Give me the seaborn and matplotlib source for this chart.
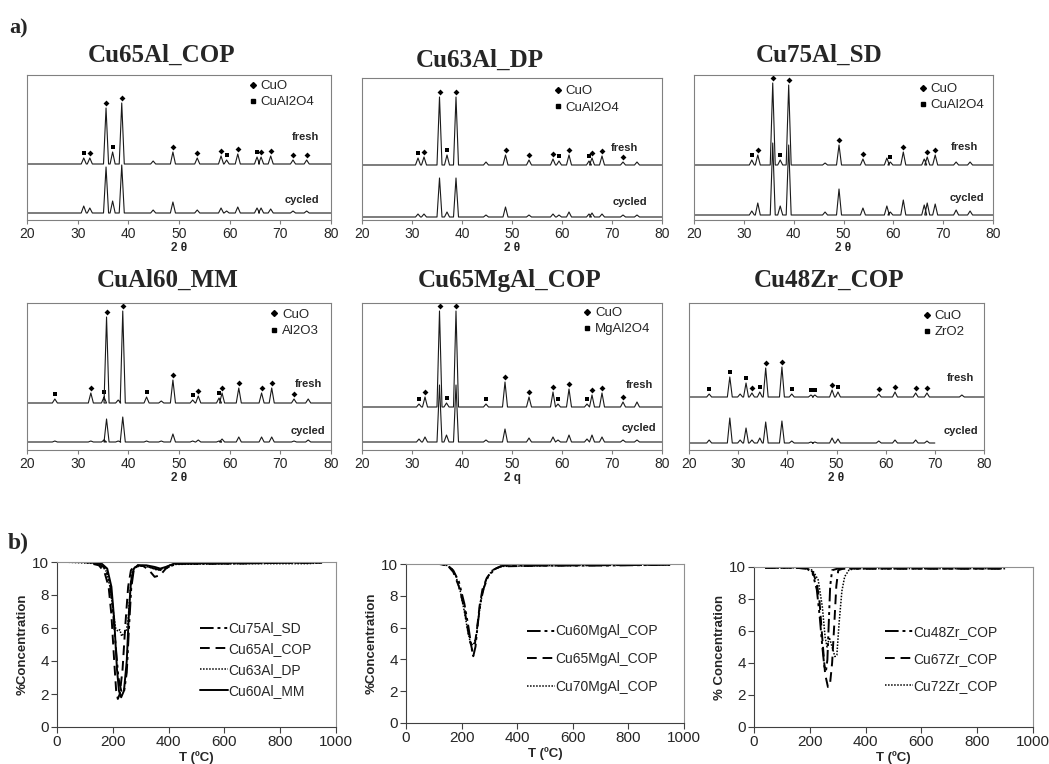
import numpy as np
import pandas as pd
import seaborn as sns
import matplotlib.pyplot as plt
from matplotlib.lines import Line2D

sns.set_theme(style="white")
plt.rcParams["font.family"] = ["Liberation Sans", "DejaVu Sans"]

W, H = 1049, 764

# ---------------- a) XRD patterns (peak lists read off the picture) ----------------
# position (2theta), height above baseline for fresh / cycled, phase: c = CuO, s = support phase
cu65al_pos = [31.2, 32.4, 35.6, 36.9, 38.7, 44.9, 48.8, 53.6, 58.3, 59.4, 61.6, 65.4, 66.2, 68.1, 72.5, 75.2]
cu65al_fresh = [6, 6, 56, 12, 61, 3, 12, 6, 8, 4, 10, 7, 7, 8, 4, 4]
cu65al_cyc = [7, 5, 46, 12, 48, 3, 11, 3, 5, 2, 6, 5, 5, 4, 2, 2]
cu65al_phase = ["s", "c", "c", "s", "c", "", "c", "c", "c", "s", "c", "s", "c", "c", "c", "c"]

cu63al_pos = [31.2, 32.4, 35.5, 37.0, 38.8, 44.8, 48.7, 53.4, 58.2, 59.4, 61.4, 65.4, 66.0, 68.0, 72.2, 75.0]
cu63al_fresh = [7, 8, 68, 10, 68, 3, 10, 5, 6, 4, 10, 4, 7, 9, 3, 3]
cu63al_cyc = [3, 3, 39, 5, 39, 2, 10, 2, 3, 2, 5, 3, 4, 3, 2, 2]
cu63al_phase = ["s", "c", "c", "s", "c", "", "c", "c", "c", "s", "c", "s", "c", "c", "c", ""]

cu75al_pos = [31.6, 32.8, 35.8, 37.3, 39.0, 46.3, 49.1, 53.9, 58.7, 59.4, 62.0, 66.2, 66.8, 68.4, 72.6, 75.4]
cu75al_fresh = [5, 10, 82, 5, 80, 2, 20, 6, 7, 3, 13, 6, 8, 10, 3, 3]
cu75al_cyc = [4, 12, 72, 9, 70, 3, 26, 7, 9, 3, 15, 10, 12, 11, 5, 4]
cu75al_phase = ["s", "c", "c", "s", "c", "", "c", "c", "", "s", "c", "", "c", "c", "", ""]

cual60_pos = [25.5, 32.6, 35.2, 35.7, 38.0, 38.9, 43.6, 46.5, 48.8, 52.7, 53.8, 57.9, 58.5, 61.8, 66.3, 68.3, 72.7, 75.5]
cual60_fresh = [4, 10, 6, 86, 3, 92, 6, 2, 23, 3, 7, 5, 10, 15, 10, 15, 4, 4]
cual60_cyc = [1, 1, 2, 23, 1, 25, 1, 1, 8, 1, 2, 1, 3, 5, 5, 5, 1, 2]
cual60_phase = ["s", "c", "s", "c", "", "c", "s", "", "c", "s", "c", "s", "c", "c", "c", "c", "c", ""]

cu65mg_pos = [31.4, 32.6, 35.5, 36.9, 38.8, 44.8, 48.6, 53.4, 58.2, 59.2, 61.4, 65.0, 66.0, 68.0, 72.2, 75.0]
cu65mg_fresh = [3, 10, 96, 4, 96, 3, 25, 10, 15, 3, 18, 3, 12, 14, 5, 5]
cu65mg_cyc = [3, 5, 57, 7, 57, 2, 13, 4, 5, 2, 7, 3, 7, 5, 2, 2]
cu65mg_phase = ["s", "c", "c", "s", "c", "s", "c", "c", "c", "s", "c", "s", "c", "c", "c", ""]

cu48zr_pos = [24.1, 28.3, 30.4, 31.6, 32.8, 34.4, 35.6, 38.9, 40.9, 44.8, 45.6, 49.1, 50.3, 58.6, 61.9, 66.1, 68.4, 75.5]
cu48zr_fresh = [3, 20, 3, 14, 4, 5, 29, 30, 3, 2, 2, 7, 5, 3, 5, 4, 4, 2]
cu48zr_cyc = [3, 25, 3, 15, 3, 5, 21, 22, 2, 1, 1, 5, 4, 2, 3, 3, 2, 0]
cu48zr_phase = ["s", "s", "", "s", "c", "s", "c", "c", "s", "s", "s", "c", "s", "c", "c", "c", "c", ""]

xrd_titles = ["Cu65Al_COP", "Cu63Al_DP", "Cu75Al_SD", "CuAl60_MM", "Cu65MgAl_COP", "Cu48Zr_COP"]
xrd_support = ["CuAl2O4", "CuAl2O4", "CuAl2O4", "Al2O3", "MgAl2O4", "ZrO2"]
xrd_xlabels = ["2 θ", "2 θ", "2 θ", "2 θ", "2 q", "2 θ"]
xrd_fresh_base = [56, 55, 55, 47, 43, 53]
xrd_cyc_base = [7, 3, 5, 8, 8, 7]
xrd_cyc_end = [80, 80, 80, 80, 80, 70]

# ---------------- b) TPR profiles ----------------
t_cu75al_sd = [20, 100, 150, 175, 190, 200, 210, 220, 230, 240, 250, 258, 266, 275, 290, 320, 350, 375, 400, 430, 600, 800, 920]
c_cu75al_sd = [10, 10, 9.9, 9.6, 8.7, 7.2, 5.0, 3.0, 2.2, 2.1, 3.3, 6.0, 8.4, 9.5, 9.8, 9.75, 9.6, 9.5, 9.7, 9.9, 9.9, 9.95, 9.95]
t_cu65al_cop = [20, 100, 150, 170, 185, 195, 205, 212, 218, 225, 235, 245, 255, 265, 275, 290, 310, 330, 350, 370, 390, 420, 600, 800, 950]
c_cu65al_cop = [10, 10, 9.8, 9.4, 8.5, 6.8, 4.0, 2.2, 1.7, 2.0, 3.5, 6.2, 8.5, 9.5, 9.7, 9.8, 9.75, 9.5, 9.1, 9.2, 9.6, 9.9, 9.9, 9.95, 9.95]
t_cu63al_dp = [20, 150, 175, 190, 200, 210, 218, 225, 232, 240, 248, 255, 262, 270, 280, 300, 330, 360, 380, 410, 600, 900, 950]
c_cu63al_dp = [10, 9.9, 9.5, 8.5, 7.2, 6.0, 5.8, 5.9, 5.5, 5.7, 5.8, 6.5, 8.2, 9.4, 9.7, 9.75, 9.7, 9.5, 9.6, 9.85, 9.9, 9.9, 9.95]
t_cu60al_mm = [20, 100, 160, 180, 195, 205, 215, 222, 230, 240, 250, 258, 265, 275, 290, 320, 350, 370, 390, 420, 600, 900]
c_cu60al_mm = [10, 10, 9.9, 9.6, 8.5, 6.5, 3.5, 2.2, 1.8, 2.2, 4.0, 7.0, 8.8, 9.6, 9.8, 9.8, 9.7, 9.6, 9.7, 9.9, 9.95, 10]

t_cu60mg = [45, 120, 150, 170, 190, 210, 225, 235, 242, 250, 258, 268, 280, 295, 320, 350, 500, 700, 950]
c_cu60mg = [10, 10, 9.9, 9.6, 8.9, 7.5, 6.0, 4.8, 4.2, 4.8, 6.2, 7.6, 8.5, 9.2, 9.7, 9.9, 9.9, 9.9, 9.95]
t_cu65mg = [45, 120, 150, 170, 190, 210, 225, 238, 248, 256, 265, 275, 290, 310, 340, 500, 950]
c_cu65mg = [10, 10, 9.9, 9.5, 8.6, 7.2, 5.6, 4.6, 5.0, 6.0, 7.4, 8.4, 9.1, 9.6, 9.85, 9.9, 9.95]
t_cu70mg = [45, 120, 150, 165, 180, 195, 210, 222, 232, 242, 252, 262, 275, 290, 310, 340, 500, 950]
c_cu70mg = [10, 10, 9.9, 9.7, 9.2, 8.3, 7.0, 5.8, 5.0, 4.9, 5.4, 6.8, 8.2, 9.1, 9.6, 9.85, 9.9, 9.95]

t_cu48zr = [40, 150, 190, 210, 225, 235, 245, 252, 258, 263, 268, 273, 280, 300, 500, 900]
c_cu48zr = [9.95, 9.95, 9.9, 9.6, 8.6, 7.0, 5.0, 3.8, 3.5, 4.2, 6.5, 8.8, 9.8, 9.9, 9.9, 9.9]
t_cu67zr = [40, 150, 190, 210, 225, 235, 245, 255, 265, 272, 280, 288, 295, 302, 320, 500, 900]
c_cu67zr = [9.95, 9.95, 9.9, 9.7, 9.0, 7.8, 5.5, 3.3, 2.5, 2.6, 4.0, 6.5, 8.8, 9.8, 9.9, 9.9, 9.9]
t_cu72zr = [40, 150, 190, 210, 230, 245, 255, 262, 270, 280, 290, 297, 305, 315, 325, 340, 360, 500, 900]
c_cu72zr = [9.95, 9.95, 9.9, 9.8, 9.2, 7.5, 5.6, 5.0, 5.6, 5.0, 4.4, 4.5, 6.5, 8.5, 9.4, 9.8, 9.9, 9.9, 9.9]

dash_dd = (0, (7, 2, 1.5, 2, 1.5, 2))
dash_d = (0, (5, 3))
dash_dot = (0, (1, 1))

fig = plt.figure(figsize=(W / 100, H / 100), dpi=100)


def box(l, t, r, b):
    return fig.add_axes([l / W, 1 - b / H, (r - l) / W, (b - t) / H])


def profile(pos, hts, base, start, end, hw=0.5):
    xs, ys = [start], [base]
    for p, v in sorted(zip(pos, hts)):
        if p + hw > end:
            continue
        xs += [p - hw, p, p + hw]
        ys += [base, base + v, base]
    xs.append(end)
    ys.append(base)
    return pd.DataFrame({"x": xs, "y": ys})


xrd_data = [
    (cu65al_pos, cu65al_fresh, cu65al_cyc, cu65al_phase),
    (cu63al_pos, cu63al_fresh, cu63al_cyc, cu63al_phase),
    (cu75al_pos, cu75al_fresh, cu75al_cyc, cu75al_phase),
    (cual60_pos, cual60_fresh, cual60_cyc, cual60_phase),
    (cu65mg_pos, cu65mg_fresh, cu65mg_cyc, cu65mg_phase),
    (cu48zr_pos, cu48zr_fresh, cu48zr_cyc, cu48zr_phase),
]
xrd_boxes = [(27, 75, 331, 220), (362, 78, 662, 220), (694, 75, 993, 220),
             (27, 303, 331, 450), (362, 303, 662, 450), (689, 303, 984, 450)]
title_pos = [(162, 62), (480, 67), (819, 62), (168, 287), (510, 287), (829, 287)]
leg_pos = [(0.73, 0.966), (0.64, 0.95), (0.752, 0.945), (0.80, 0.96), (0.737, 0.973), (0.793, 0.952)]
fresh_pos = [(0.96, 0.57), (0.92, 0.51), (0.95, 0.50), (0.97, 0.45), (0.97, 0.44), (0.966, 0.49)]
cyc_pos = [(0.96, 0.14), (0.95, 0.13), (0.97, 0.15), (0.98, 0.13), (0.98, 0.15), (0.98, 0.13)]

for i, (pos, fr, cy, ph) in enumerate(xrd_data):
    l, t, r, b = xrd_boxes[i]
    ax = box(l, t, r, b)
    dfr = profile(pos, fr, xrd_fresh_base[i], 20, 80)
    dcy = profile(pos, cy, xrd_cyc_base[i], 20, xrd_cyc_end[i])
    sns.lineplot(data=dcy, x="x", y="y", ax=ax, sort=False, estimator=None, color="#1a1a1a", lw=0.8)
    sns.lineplot(data=dfr, x="x", y="y", ax=ax, sort=False, estimator=None, color="#1a1a1a", lw=0.8)
    mk = pd.DataFrame({"x": pos, "y": np.array(fr) + xrd_fresh_base[i] + 5, "ph": ph})
    for code, m, s in [("c", "D", 9), ("s", "s", 12)]:
        sub = mk[mk.ph == code]
        sns.scatterplot(data=sub, x="x", y="y", ax=ax, marker=m, s=s, color="black", linewidth=0)
    ax.set_xlim(20, 80)
    ax.set_ylim(0, b - t)
    ax.set_xticks(range(20, 81, 10))
    ax.set_yticks([])
    ax.tick_params(axis="x", direction="out", length=3, width=0.8, color="#808080",
                   labelsize=10, pad=2, bottom=True)
    for sp in ax.spines.values():
        sp.set_color("#808080")
        sp.set_linewidth(0.8)
    ax.set_xlabel(xrd_xlabels[i], fontsize=8.5, fontweight="bold", labelpad=1)
    ax.set_ylabel("")
    handles = [Line2D([], [], ls="none", marker="D", ms=3, color="black"),
               Line2D([], [], ls="none", marker="s", ms=3.5, color="black")]
    ax.legend(handles, ["CuO", xrd_support[i]], loc="upper left", bbox_to_anchor=leg_pos[i],
              frameon=False, fontsize=9.5, handlelength=0.6, handletextpad=0.3,
              labelspacing=0.3, borderpad=0, borderaxespad=0)
    ax.text(*fresh_pos[i], "fresh", transform=ax.transAxes, ha="right", va="center",
            fontsize=8, fontweight="bold")
    ax.text(*cyc_pos[i], "cycled", transform=ax.transAxes, ha="right", va="center",
            fontsize=8, fontweight="bold")
    cx, cyb = title_pos[i]
    fig.text(cx / W, 1 - cyb / H, xrd_titles[i], ha="center", va="baseline",
             family="Liberation Serif", fontweight="bold", fontsize=18)

fig.text(9 / W, 1 - 33 / H, "a)", family="Liberation Serif", fontweight="bold", fontsize=16, va="baseline")
fig.text(8 / W, 1 - 549 / H, "b)", family="Liberation Serif", fontweight="bold", fontsize=17, va="baseline")

# ---------------- b) panels ----------------
tpr_sets = [
    [("Cu75Al_SD", t_cu75al_sd, c_cu75al_sd, dash_dd),
     ("Cu65Al_COP", t_cu65al_cop, c_cu65al_cop, dash_d),
     ("Cu63Al_DP", t_cu63al_dp, c_cu63al_dp, dash_dot),
     ("Cu60Al_MM", t_cu60al_mm, c_cu60al_mm, "-")],
    [("Cu60MgAl_COP", t_cu60mg, c_cu60mg, dash_dd),
     ("Cu65MgAl_COP", t_cu65mg, c_cu65mg, dash_d),
     ("Cu70MgAl_COP", t_cu70mg, c_cu70mg, dash_dot)],
    [("Cu48Zr_COP", t_cu48zr, c_cu48zr, dash_dd),
     ("Cu67Zr_COP", t_cu67zr, c_cu67zr, dash_d),
     ("Cu72Zr_COP", t_cu72zr, c_cu72zr, dash_dot)],
]
tpr_boxes = [(57, 562, 336, 727), (406, 564, 684, 723), (754, 567, 1033, 727)]
tpr_ylabels = ["%Concentration", "%Concentration", "% Concentration"]
tpr_leg = [(0.513, 0.64, 0.5), (0.435, 0.62, 1.0), (0.47, 0.64, 0.95)]

for i, series in enumerate(tpr_sets):
    ax = box(*tpr_boxes[i])
    for name, tt, cc, ls in series:
        d = pd.DataFrame({"T": tt, "C": cc})
        sns.lineplot(data=d, x="T", y="C", ax=ax, sort=False, estimator=None, color="black",
                     lw=1.1 if ls == dash_dot else 1.4, linestyle=ls, label=name)
    ax.set_xlim(0, 1000)
    ax.set_ylim(0, 10)
    ax.set_xticks(range(0, 1001, 200))
    ax.set_yticks(range(0, 11, 2))
    ax.tick_params(direction="out", length=4, width=0.8, color="#404040", labelsize=11,
                   pad=2, bottom=True, left=True)
    for k, sp in ax.spines.items():
        sp.set_linewidth(0.8)
        sp.set_color("#404040" if k in ("left", "bottom") else "#909090")
    ax.set_xlabel("T (ºC)", fontsize=9.5, fontweight="bold", labelpad=1)
    ax.set_ylabel(tpr_ylabels[i], fontsize=9.5, fontweight="bold", labelpad=2)
    fx, fy, lsp = tpr_leg[i]
    ax.legend(loc="upper left", bbox_to_anchor=(fx, fy), frameon=False, fontsize=10,
              handlelength=2.0, handletextpad=0.05, labelspacing=lsp, borderpad=0, borderaxespad=0)

fig.savefig("out.png", dpi=100)
plt.close(fig)
